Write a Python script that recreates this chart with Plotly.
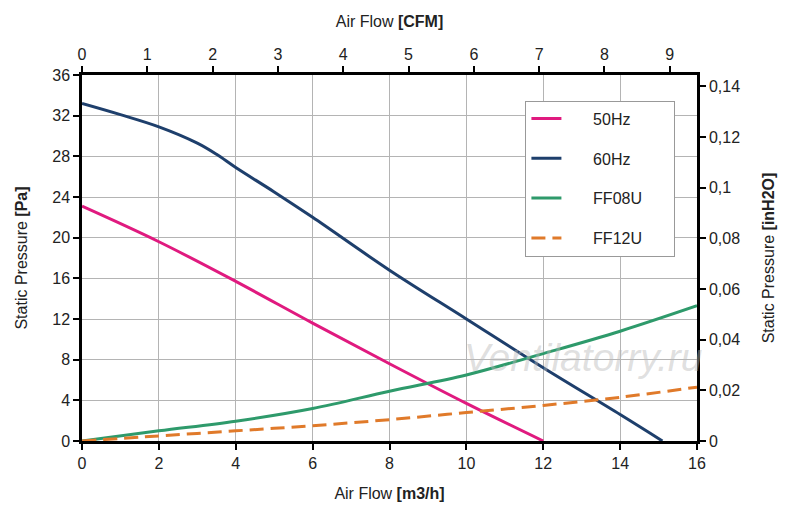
import plotly.graph_objects as go

# air flow in m3/h
flow = [0, 2, 4, 6, 8, 10, 12, 14, 16]

hz50_x = [0, 2, 4, 6, 8, 10, 12]
hz50_y = [23.1, 19.6, 15.7, 11.6, 7.6, 3.7, 0]

hz60_x = [0, 1, 2, 3, 3.5, 4, 5, 6, 8, 10, 12, 14, 15.1]
hz60_y = [33.2, 32.1, 30.9, 29.3, 28.2, 26.9, 24.5, 22.0, 16.8, 12.0, 7.2, 2.6, 0]

ff08u_y = [0, 1.0, 1.95, 3.2, 4.9, 6.5, 8.6, 10.8, 13.3]
ff12u_y = [0, 0.5, 1.0, 1.5, 2.1, 2.8, 3.5, 4.3, 5.3]

pa_ticks = [0, 4, 8, 12, 16, 20, 24, 28, 32, 36]
inh2o_ticks = [0, 0.02, 0.04, 0.06, 0.08, 0.1, 0.12, 0.14]
inh2o_labels = ["0", "0,02", "0,04", "0,06", "0,08", "0,1", "0,12", "0,14"]
cfm_ticks = [0, 1, 2, 3, 4, 5, 6, 7, 8, 9]

M3H_PER_CFM = 1.699
PA_PER_INH2O = 249.09
FONT = "Liberation Sans, Arial, sans-serif"


def label(s):
    # pad legend entries so the box gets as wide as the original
    return "&nbsp;" * 6 + s + "&nbsp;" * 6


fig = go.Figure()
fig.add_trace(go.Scatter(x=hz50_x, y=hz50_y, name=label("50Hz"), mode="lines", line_shape="spline",
                         line=dict(color="#e01a7f", width=3), legendgroup="a"))
fig.add_trace(go.Scatter(x=hz60_x, y=hz60_y, name=label("60Hz"), mode="lines", line_shape="spline",
                         line=dict(color="#1e3f6c", width=3), legendgroup="b"))
fig.add_trace(go.Scatter(x=flow, y=ff08u_y, name=label("FF08U"), mode="lines", line_shape="spline",
                         line=dict(color="#2e9a6b", width=3), legendgroup="c"))
fig.add_trace(go.Scatter(x=flow, y=ff12u_y, name=label("FF12U"), mode="lines", line_shape="spline",
                         line=dict(color="#e07a2a", width=3, dash="14px,7px"), legendgroup="d"))

# same FF08U curve in CFM / inH2O units, only to bring up the secondary axes
fig.add_trace(go.Scatter(x=[v / M3H_PER_CFM for v in flow], y=[v / PA_PER_INH2O for v in ff08u_y],
                         xaxis="x2", yaxis="y2", mode="lines", opacity=0, showlegend=False,
                         hoverinfo="skip"))

axis_common = dict(showline=True, linecolor="black", linewidth=2.5, ticks="outside",
                   ticklen=6, tickwidth=2, tickcolor="black", zeroline=False,
                   tickfont=dict(size=16, color="#222"), mirror=False)

fig.update_layout(
    width=792, height=509,
    margin=dict(l=73, r=103, t=64, b=76),
    paper_bgcolor="white", plot_bgcolor="white",
    font=dict(family=FONT, color="#222"),
    xaxis=dict(range=[0, 16], dtick=2, showgrid=True, gridcolor="#b4b4b4", gridwidth=1,
               title=dict(text="Air Flow <b>[m3/h]</b>", font=dict(size=16), standoff=17),
               **axis_common),
    yaxis=dict(range=[0, 36], tickvals=pa_ticks, showgrid=True, gridcolor="#b4b4b4", gridwidth=1,
               title=dict(text="Static Pressure <b>[Pa]</b>", font=dict(size=16), standoff=21),
               **axis_common),
    xaxis2=dict(range=[0, 16 / M3H_PER_CFM], tickvals=cfm_ticks, overlaying="x", side="top",
                anchor="y", showgrid=False,
                title=dict(text="Air Flow <b>[CFM]</b>", font=dict(size=16), standoff=15),
                **axis_common),
    yaxis2=dict(range=[0, 36 / PA_PER_INH2O], tickvals=inh2o_ticks, ticktext=inh2o_labels,
                overlaying="y", side="right", anchor="x", showgrid=False,
                title=dict(text="Static Pressure <b>[inH2O]</b>", font=dict(size=16), standoff=24),
                **axis_common),
    legend=dict(x=0.721, y=0.93, xanchor="left", yanchor="top", bgcolor="white",
                bordercolor="#999", borderwidth=1, font=dict(size=16, color="#222"),
                tracegroupgap=16),
    showlegend=True,
)

fig.add_annotation(text="<i>Ventilatorry.ru</i>", xref="paper", yref="paper",
                   x=0.815, y=0.228, xanchor="center", yanchor="middle", showarrow=False,
                   font=dict(size=39, color="rgba(185,185,185,0.45)", family=FONT))

fig.write_html("out.html")
